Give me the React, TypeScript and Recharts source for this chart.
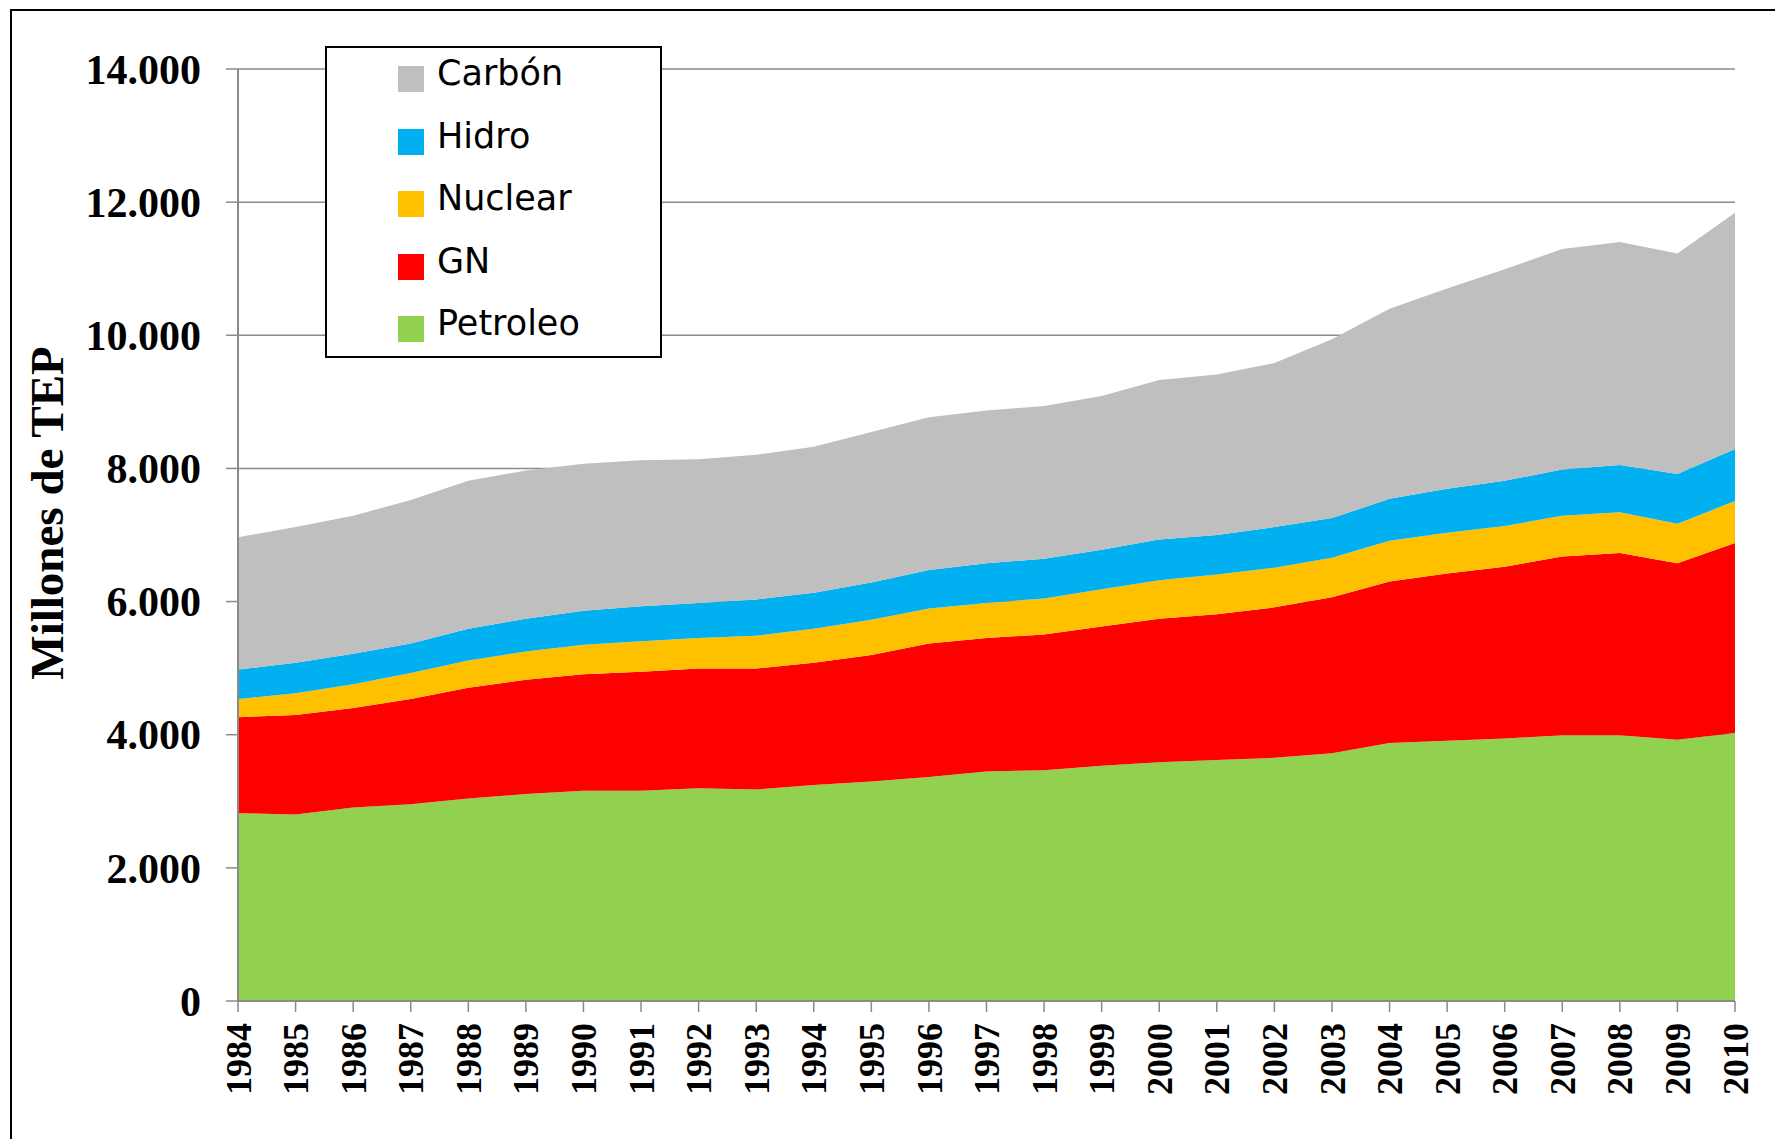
import React from "react";
import { AreaChart, Area, XAxis, YAxis, CartesianGrid, Legend } from "recharts";

const years = ["1984","1985","1986","1987","1988","1989","1990","1991","1992","1993","1994","1995","1996","1997","1998","1999","2000","2001","2002","2003","2004","2005","2006","2007","2008","2009","2010"];

const petroleo = [2820,2803,2905,2956,3041,3109,3160,3160,3194,3177,3245,3296,3364,3449,3466,3534,3585,3619,3653,3721,3874,3908,3942,3993,3993,3925,4027];
const gn = [1444,1495,1495,1580,1665,1716,1750,1784,1801,1818,1835,1903,2005,2005,2039,2090,2158,2192,2260,2344,2429,2514,2582,2684,2735,2650,2854];
const nuclear = [272,323,357,391,408,425,442,459,459,493,510,527,526,526,543,560,577,594,594,595,612,612,612,612,612,595,628];
const hidro = [442,459,459,442,476,493,509,526,526,543,543,560,578,595,595,595,612,595,612,595,628,662,679,696,713,747,782];
const carbon = [1988,2039,2073,2157,2225,2225,2209,2192,2158,2175,2192,2260,2294,2294,2294,2310,2395,2412,2463,2684,2855,3008,3177,3313,3347,3313,3551];

const yTicks = [0, 2000, 4000, 6000, 8000, 10000, 12000, 14000];

const series = [
  { key: "Petroleo", values: petroleo, color: "#92D050" },
  { key: "GN", values: gn, color: "#FF0000" },
  { key: "Nuclear", values: nuclear, color: "#FFC000" },
  { key: "Hidro", values: hidro, color: "#00B0F0" },
  { key: "Carbón", values: carbon, color: "#BFBFBF" },
];

const data = years.map((y, i) => {
  const row: Record<string, number | string> = { year: y };
  series.forEach((s) => { row[s.key] = s.values[i]; });
  return row;
});

const SERIF = "'Liberation Serif', 'Times New Roman', Times, serif";
const SANS = "'DejaVu Sans', Verdana, sans-serif";

const fmt = (n: number) => String(n).replace(/\B(?=(\d{3})+(?!\d))/g, ".");

const YTick = (props: any) => {
  const { x, y, payload } = props;
  return (
    <text x={x} y={y} dy="0.35em" textAnchor="end" fontFamily={SERIF} fontWeight="bold" fontSize={42} fill="#000">
      {fmt(payload.value)}
    </text>
  );
};

const XTick = (props: any) => {
  const { x, y, payload } = props;
  return (
    <text transform={`translate(${x},${y}) rotate(-90)`} dy="0.35em" textAnchor="end" fontFamily={SERIF} fontWeight="bold" fontSize={36} fill="#000">
      {payload.value}
    </text>
  );
};

const legendOrder = [...series].reverse();

const LegendBox = () => (
  <div style={{ width: 337, height: 312, boxSizing: "border-box", border: "2px solid #000", background: "#fff", position: "relative" }}>
    {legendOrder.map((s, i) => (
      <div key={s.key} style={{ position: "absolute", left: 71, top: 31 + i * 62.5 - 17, height: 34, display: "flex", alignItems: "center" }}>
        <div style={{ width: 26, height: 26, background: s.color, marginRight: 13 }} />
        <span style={{ fontFamily: SANS, fontSize: 35, color: "#000", lineHeight: "34px", position: "relative", top: -6 }}>{s.key}</span>
      </div>
    ))}
  </div>
);

const YTitle = () => (
  <text transform="translate(63,513) rotate(-90)" textAnchor="middle" fontFamily={SERIF} fontWeight="bold" fontSize={47} fill="#000">
    Millones de TEP
  </text>
);

export default function App() {
  return (
    <div style={{ position: "fixed", left: 0, top: 0, width: 1775, height: 1139, background: "#fff", overflow: "hidden" }}>
      <div style={{ position: "absolute", left: 10, top: 9, width: 3000, height: 3000, border: "2px solid #000" }} />
      <div style={{ position: "absolute", left: 0, top: 0 }}>
        <AreaChart width={1775} height={1139} data={data} margin={{ top: 69, right: 40, bottom: 0, left: 0 }}>
          <CartesianGrid horizontal vertical={false} stroke="#8a8a8a" strokeWidth={1.5} />
          <XAxis
            dataKey="year"
            height={138}
            tick={<XTick />}
            tickSize={11}
            tickMargin={11}
            interval={0}
            axisLine={{ stroke: "#8a8a8a", strokeWidth: 2 }}
            tickLine={{ stroke: "#8a8a8a", strokeWidth: 1.5 }}
          />
          <YAxis
            width={238}
            domain={[0, 14000]}
            ticks={yTicks}
            tick={<YTick />}
            tickSize={12}
            tickMargin={25}
            interval={0}
            axisLine={{ stroke: "#8a8a8a", strokeWidth: 2 }}
            tickLine={{ stroke: "#8a8a8a", strokeWidth: 1.5 }}
            label={<YTitle />}
          />
          {series.map((s) => (
            <Area
              key={s.key}
              type="linear"
              dataKey={s.key}
              stackId="1"
              stroke="none"
              fill={s.color}
              fillOpacity={1}
              isAnimationActive={false}
            />
          ))}
          <Legend
            layout="vertical"
            align="center"
            verticalAlign="middle"
            content={() => <LegendBox />}
            wrapperStyle={{ position: "absolute", left: 325, top: 46, width: 337, height: 312 }}
          />
        </AreaChart>
      </div>
    </div>
  );
}
